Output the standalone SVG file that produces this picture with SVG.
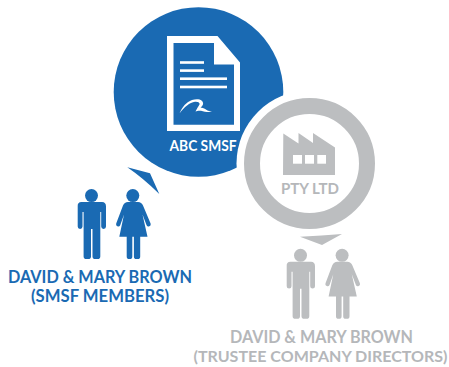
<svg xmlns="http://www.w3.org/2000/svg" width="449" height="367" viewBox="0 0 449 367">
<style>
.t{font-family:Lato,"Open Sans","Liberation Sans",sans-serif;font-weight:700;text-anchor:middle}
.b{fill:#1a6ab3}
.g{fill:#bcbec0}
.w{fill:#fff}
</style>
<defs>
<g id="man">
<circle cx="91.500" cy="195.600" r="6.500"/>
<path d="M81.500 202H102Q106 202 106 206.500V226.500a2.400 2.400 0 0 1-4.800 0V212H100.300V256.500a2.800 2.800 0 0 1-2.800 2.600H95.300a2.800 2.800 0 0 1-2.800-2.600V229H91V256.500a2.800 2.800 0 0 1-2.800 2.600H86.400a2.800 2.800 0 0 1-2.800-2.600V212H82.500V226.500a2.400 2.400 0 0 1-4.800 0V206.500Q77.300 202 81.500 202Z"/>
</g>
<g id="woman">
<circle cx="132.800" cy="195.600" r="6.500"/>
<path d="M128 202H138Q141.500 202 143 205.500L150.600 223.500a2.200 2.200 0 0 1-4 1.800L142.500 214.500 147.500 236.800H140.200V256.500a2.600 2.600 0 0 1-2.600 2.600H136.500a2.600 2.600 0 0 1-2.600-2.600V236.800H132.300V256.500a2.600 2.600 0 0 1-2.600 2.600H129.300a2.600 2.600 0 0 1-2.600-2.600V236.800H119.300L124 214.500 120.200 225.300a2.200 2.200 0 0 1-4-1.800L123 205.500Q124.500 202 128 202Z"/>
</g>
</defs>
<rect width="449" height="367" fill="#fff"/>
<g id="abc-smsf">
<circle class="b" cx="198.500" cy="92" r="84.800"/>
<circle class="w" cx="309.500" cy="163.500" r="73"/>
<path class="w" fill-rule="evenodd" d="M167 36H217.500L240 62.500V131H167ZM173.500 43V124.800H234V64.500H214V43Z"/>
<g class="w">
<rect x="180" y="61.200" width="24" height="2.600"/>
<rect x="180" y="69.300" width="24" height="2.600"/>
<rect x="180" y="77.400" width="47" height="2.600"/>
<rect x="180" y="85.700" width="47" height="2.600"/>
<path d="M179.500 113.500C182 107 186.500 102 192 100C196 98.800 200 99.200 201.500 100.500C204 102.500 203.500 105.500 200.500 107.500C204 107.800 206 109.500 207.500 110.500L212 112C207.500 112.300 204 111.800 201 110.800C198.500 110.500 197 111 195.500 111.500C196.500 109 198.500 106.500 199.500 104.500C200.200 102.800 198 101.500 195 101.800C189.500 102.500 184.500 107 179.500 113.500Z"/>
</g>
<text class="t w" x="203" y="151" font-size="15" textLength="67" lengthAdjust="spacingAndGlyphs">ABC SMSF</text>
</g>
<g id="pty-ltd">
<circle cx="309.500" cy="163.500" r="57.500" fill="#fff" stroke="#bcbec0" stroke-width="16"/>
<path class="g" d="M283.300 133.500L298.500 143.500V133L313 143V133L335 147.500V175H283Z"/>
<g class="w">
<rect x="293" y="155" width="9" height="8.700"/>
<rect x="305" y="155" width="9" height="8.700"/>
<rect x="317.300" y="155" width="8.700" height="8.700"/>
</g>
<text class="t" x="310" y="194" font-size="16" fill="#b5b7ba" textLength="58" lengthAdjust="spacingAndGlyphs">PTY LTD</text>
</g>
<g id="connectors">
<path class="b" d="M127.300 167.300L150 173.300L159.300 194Q143 178 127.300 167.300Z"/>
<path class="g" d="M300 236.700Q322 235.500 342 234L322 245Z"/>
</g>
<g id="smsf-members">
<use href="#man" class="b"/>
<use href="#woman" class="b"/>
<text class="t b" x="100" y="283" font-size="16.500" textLength="184" lengthAdjust="spacingAndGlyphs">DAVID &amp; MARY BROWN</text>
<text class="t b" x="100" y="301.500" font-size="16.500" textLength="138" lengthAdjust="spacingAndGlyphs">(SMSF MEMBERS)</text>
</g>
<g id="trustee-directors">
<use href="#man" class="g" transform="translate(209 59.700)"/>
<use href="#woman" class="g" transform="translate(209.300 59.700)"/>
<text class="t" x="321.500" y="342.500" font-size="16.500" fill="#b5b7ba" textLength="183" lengthAdjust="spacingAndGlyphs">DAVID &amp; MARY BROWN</text>
<text class="t" x="320.500" y="361.500" font-size="15.500" fill="#b5b7ba" textLength="254" lengthAdjust="spacingAndGlyphs">(TRUSTEE COMPANY DIRECTORS)</text>
</g>
</svg>
